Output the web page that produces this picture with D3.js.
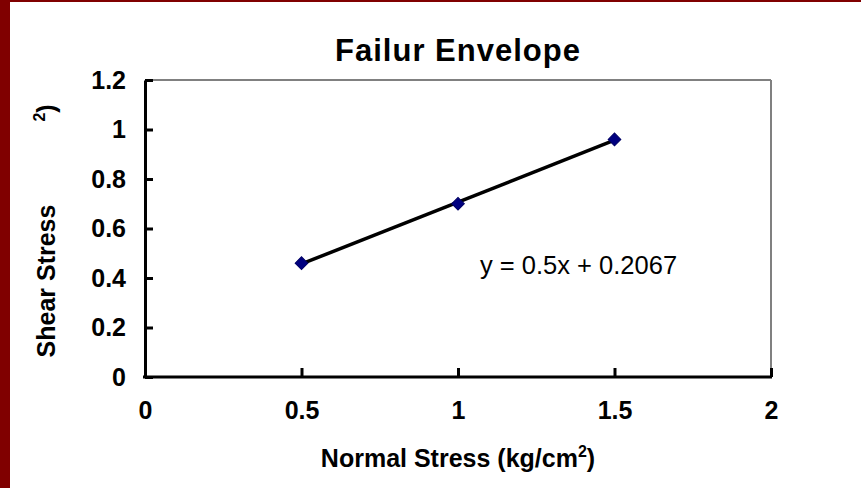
<!DOCTYPE html>
<html><head><meta charset="utf-8">
<script src="https://cdn.jsdelivr.net/npm/d3@7"></script>
<style>
html,body{margin:0;padding:0;background:#fff;}
svg{display:block;font-family:"Liberation Sans",Arial,sans-serif;}
</style></head>
<body>
<svg id="c" width="861" height="488"></svg>
<script>
const normalStress = [0.5, 1.0, 1.5];
const shearStress = [0.46, 0.70, 0.96];
const xTicks = [0, 0.5, 1, 1.5, 2];
const yTicks = [0, 0.2, 0.4, 0.6, 0.8, 1, 1.2];
const slope = 0.5, intercept = 0.2067;
const titleText = "Failur Envelope";
const equationText = "y = 0.5x + 0.2067";

const svg = d3.select("#c");
svg.append("rect").attr("x",0).attr("y",0).attr("width",861).attr("height",488).attr("fill","#fff");
svg.append("rect").attr("x",0).attr("y",0).attr("width",10).attr("height",488).attr("fill","#800000");
svg.append("rect").attr("x",0).attr("y",0).attr("width",861).attr("height",2).attr("fill","#800000");

const L=145, R=771, T=80, B=377;
const x = d3.scaleLinear().domain([0,2]).range([L,R]);
const y = d3.scaleLinear().domain([0,1.2]).range([B,T]);

// plot border (gray top/right)
svg.append("line").attr("x1",L).attr("x2",R).attr("y1",T).attr("y2",T).attr("stroke","#808080").attr("stroke-width",2);
svg.append("line").attr("x1",R).attr("x2",R).attr("y1",T).attr("y2",B).attr("stroke","#808080").attr("stroke-width",2);

// axes
const fmt = d=>d3.format("")(+d.toFixed(1));
const yAxis = d3.axisLeft(y).tickValues(yTicks).tickSizeInner(-8).tickSizeOuter(0).tickPadding(19).tickFormat(fmt);
const gy = svg.append("g").attr("transform",`translate(${L},0)`).call(yAxis);
const xAxis = d3.axisBottom(x).tickValues(xTicks).tickSizeInner(-9).tickSizeOuter(0).tickPadding(24).tickFormat(fmt);
const gx = svg.append("g").attr("transform",`translate(0,${B})`).call(xAxis);
[gx,gy].forEach(g=>{
  g.select(".domain").attr("stroke","#000").attr("stroke-width",3);
  g.selectAll(".tick line").attr("stroke","#000").attr("stroke-width",3);
  g.selectAll(".tick text").attr("fill","#000").attr("font-size",25).attr("font-weight","bold")
   .attr("font-family","'Liberation Sans',Arial,sans-serif");
});
gx.select(".domain").attr("d",`M${L-2},0H${R+1}`);

// trendline
svg.append("line")
  .attr("x1",x(normalStress[0])).attr("y1",y(slope*normalStress[0]+intercept))
  .attr("x2",x(normalStress[2])).attr("y2",y(slope*normalStress[2]+intercept))
  .attr("stroke","#000").attr("stroke-width",3.5);

// markers
svg.selectAll("path.pt").data(normalStress).enter().append("path").attr("class","pt")
  .attr("d",d3.symbol().type(d3.symbolSquare).size(80))
  .attr("transform",(d,i)=>`translate(${x(d)},${y(shearStress[i])}) rotate(45)`)
  .attr("fill","#000080").attr("stroke","#000066").attr("stroke-width",1);

// title
svg.append("text").attr("x",(L+R)/2).attr("y",61).attr("text-anchor","middle")
  .attr("font-size",31).attr("font-weight","bold").attr("letter-spacing",1).text(titleText);

// x title
const xt = svg.append("text").attr("x",(L+R)/2).attr("y",467).attr("text-anchor","middle")
  .attr("font-size",25).attr("font-weight","bold");
xt.append("tspan").text("Normal Stress (kg/cm");
xt.append("tspan").attr("dy",-10).attr("font-size",16).text("2");
xt.append("tspan").attr("dy",10).text(")");

// y title
svg.append("text").attr("transform",`translate(55,${281}) rotate(-90)`).attr("text-anchor","middle")
  .attr("font-size",25).attr("font-weight","bold").text("Shear Stress");
const yt2 = svg.append("text").attr("transform",`translate(55,${113}) rotate(-90)`).attr("text-anchor","middle")
  .attr("font-size",25).attr("font-weight","bold");
yt2.append("tspan").attr("dy",-10).attr("font-size",16).text("2");
yt2.append("tspan").attr("dy",10).text(")");

// equation
svg.append("text").attr("x",480).attr("y",274).attr("font-size",25.5).text(equationText);
</script>
</body></html>
